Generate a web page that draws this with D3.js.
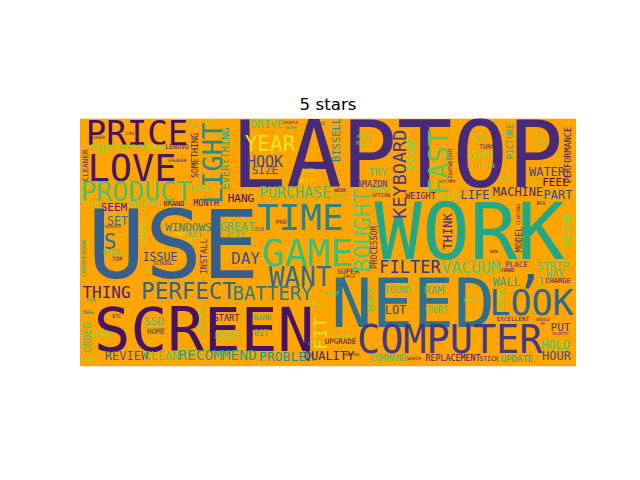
<!DOCTYPE html>
<html>
<head>
<meta charset="utf-8">
<script src="https://cdn.jsdelivr.net/npm/d3@7"></script>
<style>
  body { margin: 0; background: #fff; }
  svg { display: block; }
</style>
</head>
<body>
<div id="chart"></div>
<script>
//====================== Word cloud data (cloud units, 496 x 248) ======================

// large horizontal words
const bigWords = ["LAPTOP", "USE", "WORK", "NEED", "SCREEN", "COMPUTER", "GAME", "LOVE", "TIME", "LOOK",
  "PRICE", "PRODUCT", "WANT", "PERFECT", "YEAR", "S", "BATTERY", "FILTER", "VACUUM", "THING",
  "DAY", "PURCHASE", "HOOK", "\u2019"];
const bigX = [317, 93.5, 389.7, 333, 124, 369.7, 227, 52, 220, 451.5,
  57, 56, 220, 108.5, 190, 30, 192.5, 330, 391, 26.5,
  165.5, 215, 185, 449];
const bigY = [35.5, 125, 111.7, 184, 210.5, 220.7, 134, 49, 98.5, 184,
  14, 73, 158, 172.5, 25, 123, 174.5, 148.3, 149, 173.5,
  140, 74.5, 43, 175.5];
const bigSize = [92, 95, 79, 68, 61, 38.5, 38, 37, 36, 35,
  34, 26.5, 26, 22.5, 21, 21, 19, 17, 16.5, 16,
  16, 15, 15, 50];
const bigTone = [.12, .30, .60, .37, .05, .17, .70, .06, .45, .33,
  .04, .72, .35, .33, .97, .36, .42, .14, .73, .09,
  .25, .70, .22, .28];

// medium horizontal words
const midWords = ["RECOMMEND", "PROBLEM", "REVIEW", "CLEAN", "QUALITY", "WATER", "PART", "MACHINE", "LIFE", "LOT",
  "HOLD", "HOUR", "GREAT", "ISSUE", "SET", "WALL", "WINDOWS", "SEEM", "HANG", "DRIVE",
  "SIZE", "FEEL", "T", "RAM", "PUT", "SSD", "TRY", "STRIP", "WAY", "UPDATE",
  "PLAY", "FOUND", "PORT", "REPLACEMENT", "COMMAND", "START", "POWER", "BIT", "KEY", "MONTH",
  "AMAZON", "WEIGHT", "VIDEO"];
const midX = [137.5, 206.5, 46.5, 81.5, 249, 467, 478, 438, 395, 315.5,
  475.5, 476.5, 157.5, 80, 37.5, 426.5, 108.5, 34, 161, 187,
  185, 475.5, 461.5, 354, 480.5, 74, 298, 473, 475, 437,
  155, 318, 358, 373, 308.5, 146.5, 147.5, 181.5, 115, 126,
  292, 340.5, 401];
const midY = [236.5, 237.5, 237.5, 237.5, 237, 53, 76.7, 73, 76.7, 191.7,
  226.5, 237, 108, 138, 102.5, 163, 108.5, 88.5, 80, 6,
  52, 63.5, 163, 172, 209, 202.5, 53.3, 148, 156, 240,
  116.5, 171.7, 191.7, 240, 239.5, 199, 217.5, 215, 116, 84.5,
  65, 77.5, 37];
const midSize = [14.5, 13, 12, 12, 12, 12, 12, 12, 12, 12,
  12, 12, 11.5, 11.5, 11.5, 11.5, 11, 11, 11, 11,
  11, 11, 11, 11, 11, 11, 10.5, 10.5, 10, 9,
  8, 8.5, 8.5, 8.3, 8.5, 8.5, 8.5, 8, 8, 8.5,
  8.5, 8.5, 8];
const midTone = [.57, .52, .31, .73, .10, .20, .20, .12, .18, .20,
  .72, .22, .68, .20, .40, .60, .42, .08, .03, .72,
  .24, .02, .70, .68, .18, .70, .72, .72, .72, .60,
  .72, .70, .70, .06, .70, .05, .82, .62, .70, .06,
  .15, .10, .82];

// small horizontal words
const smallWords = ["UPGRADE", "SURE", "SUPER", "BAND", "HOME", "SIDE", "PLACE", "WATCH", "CHARGE", "BRAND",
  "BRUSH", "STORE", "STICK", "ANYTHING", "CHANGE", "DESIGN", "FEATURE", "SPEED", "LENOVO", "BELT",
  "TURN", "KITCHEN", "EXCELLENT", "TOP", "TYPE", "HELP", "MODE", "ITEM", "PRO", "HAND",
  "SOUND", "DELL", "BAG", "PAD", "USB", "SCHOOL", "FINE", "ETC", "FAN", "HP",
  "CARD", "WEEK", "WORKS", "AMAZE", "OPTION", "BOX", "EASY", "AUDIO", "CPU", "COOL",
  "COVER", "FIX", "SYSTEM", "VALUE", "NOW", "WORTH", "WOULD", "SPEAKER", "SAFE", "PEOPLE",
  "NOISE", "INITIAL", "COUPLE", "PLASTIC", "PC", "SMALL", "SPACE", "APPLE", "SERVICE"];
const smallX = [260.5, 262.5, 268, 182.5, 76, 31.5, 436.5, 369, 478, 94,
  300, 21.5, 409, 65, 119, 22, 53, 76, 97, 226,
  407, 401, 433, 37.5, 11, 283, 400, 459, 201, 428,
  251, 235, 8, 100, 179, 83, 8, 37, 11, 110,
  228, 260, 260, 284, 301, 461, 25, 391, 50, 113,
  18, 241, 367, 456, 414, 334, 463, 97, 131, 211,
  211, 272, 235, 481, 463, 426, 454, 269, 33];
const smallY = [223, 217.5, 153, 199, 213, 134, 145.5, 77.5, 162, 85,
  71, 216, 240, 85, 70, 28, 28.5, 28.5, 28.5, 62,
  28, 47, 200.5, 140, 85, 24, 19, 25.5, 103, 152,
  175, 184.5, 194, 116, 111, 145, 241, 198, 182, 122,
  52, 72, 77, 18, 77, 85, 34, 182, 15, 7,
  19, 5, 63, 15.5, 133, 240, 200.5, 42, 4, 4,
  9, 236, 225, 215.5, 205, 60, 60, 158, 108];
const smallSize = [7.5, 7, 7.5, 7.5, 7.5, 7.5, 7.5, 7.5, 7, 7,
  7, 6.5, 6.5, 6.5, 6.5, 6.5, 6.7, 6.3, 6.5, 6.5,
  6.5, 6.5, 6, 6, 6, 6, 6, 6, 6, 5.5,
  5.5, 5.5, 5.5, 5.5, 5.5, 5.5, 5, 5, 5, 5,
  5, 5, 5, 5, 5, 5, 5, 5, 4.5, 4.5,
  4.5, 4.5, 4.5, 4.5, 4.5, 4.5, 4.5, 4.5, 4, 4,
  4, 4, 4, 4, 4, 4, 4, 4, 4];
const smallTone = [.05, .82, .12, .62, .20, .75, .12, .82, .05, .04,
  .78, .82, .08, .78, .80, .82, .78, .88, .08, .93,
  .10, .80, .10, .05, .85, .80, .80, .80, .10, .05,
  .75, .85, .40, .95, .30, .08, .85, .10, .65, .85,
  .90, .05, .78, .80, .08, .10, .80, .82, .08, .78,
  .08, .10, .10, .80, .08, .08, .08, .08, .80, .08,
  .60, .08, .80, .08, .10, .80, .80, .10, .08];

// vertical words (read bottom to top)
const vertWords = ["LIGHT", "FAST", "BOUGHT", "KEYBOARD", "FIT", "THINK", "RIGHT", "TOUCH", "BISSELL", "EVERYTHING",
  "ORDER", "PERFORMANCE", "PICTURE", "MODEL", "INSTALL", "SOMETHING", "PROCESSOR", "CLEANER", "CARPET", "DEVICE",
  "COLOR", "DISPLAY", "CHROMEBOOK", "LIGHTWEIGHT", "CLOSING"];
const vertX = [132, 358, 282, 319.7, 240, 368, 330.5, 487, 256, 145,
  7.5, 488, 430, 439, 123.5, 115, 294, 5, 63.5, 290.5,
  421, 122, 4, 370.5, 438.5];
const vertY = [45, 44, 112.5, 55.8, 215, 113, 35, 113, 21.5, 40,
  219, 36.7, 23, 121, 138, 37, 129, 47, 112.5, 181,
  181.7, 202, 140, 46.5, 96];
const vertSize = [27, 27, 23, 18.5, 18, 12, 11, 11, 10.5, 10.3,
  10, 8.5, 8.5, 8.5, 8.5, 8.3, 8, 7.5, 7.5, 7,
  7, 6.5, 6.3, 5, 5];
const vertTone = [.48, .74, .74, .16, .95, .12, .82, .80, .48, .60,
  .70, .05, .62, .12, .15, .08, .10, .15, .85, .72,
  .80, .80, .60, .10, .10];

const title = "5 stars";

//====================== Chart ======================

const w = 640;
const h = 480;

const cloudW = 496;
const cloudH = 248;

// axes box as matplotlib lays it out, image kept at equal aspect
const axLeft = 0.125 * w;
const axWidth = 0.775 * w;
const axTop = (1 - 0.88) * h;
const axHeight = 0.77 * h;
const k = Math.min(axWidth / cloudW, axHeight / cloudH);
const plotW = cloudW * k;
const plotH = cloudH * k;
const plotLeft = axLeft + (axWidth - plotW) / 2;
const plotTop = axTop + (axHeight - plotH) / 2;

const xScale = d3.scaleLinear().domain([0, cloudW]).range([plotLeft, plotLeft + plotW]);
const yScale = d3.scaleLinear().domain([0, cloudH]).range([plotTop, plotTop + plotH]);
const sizeScale = d3.scaleLinear().domain([0, cloudH]).range([0, plotH]);

const makeRows = (names, xs, ys, sizes, tones, rot) =>
  names.map((t, i) => ({ text: t, x: xs[i], y: ys[i], size: sizes[i], tone: tones[i], rot: rot }));

const rows = [].concat(
  makeRows(bigWords, bigX, bigY, bigSize, bigTone, 0),
  makeRows(midWords, midX, midY, midSize, midTone, 0),
  makeRows(smallWords, smallX, smallY, smallSize, smallTone, 0),
  makeRows(vertWords, vertX, vertY, vertSize, vertTone, -90)
);

let svg = d3.select("#chart").append("svg")
  .attr("width", w)
  .attr("height", h)
  .attr("viewBox", "0 0 " + w + " " + h);

svg.append("rect")
  .attr("width", w)
  .attr("height", h)
  .attr("fill", "#ffffff");

svg.append("clipPath")
  .attr("id", "cloud-clip")
  .append("rect")
  .attr("x", xScale(0))
  .attr("y", yScale(0))
  .attr("width", xScale(cloudW) - xScale(0))
  .attr("height", yScale(cloudH) - yScale(0));

let cloud = svg.append("g")
  .attr("clip-path", "url(#cloud-clip)");

cloud.append("rect")
  .attr("x", xScale(0))
  .attr("y", yScale(0))
  .attr("width", xScale(cloudW) - xScale(0))
  .attr("height", yScale(cloudH) - yScale(0))
  .attr("fill", "#ffa500");

// words are positioned by their centre; dy pulls the capitals onto it
cloud.selectAll("text.word")
  .data(rows)
  .join("text")
  .attr("class", "word")
  .attr("transform", d => "translate(" + xScale(d.x) + "," + yScale(d.y) + ") rotate(" + d.rot + ")")
  .attr("text-anchor", "middle")
  .attr("dy", "0.365em")
  .attr("font-family", "'DejaVu Sans Mono', monospace")
  .attr("font-size", d => sizeScale(d.size))
  .attr("fill", d => d3.interpolateViridis(d.tone))
  .text(d => d.text);

// title
svg.append("text")
  .attr("x", plotLeft + plotW / 2)
  .attr("y", plotTop - 8.33)
  .attr("text-anchor", "middle")
  .attr("font-family", "'DejaVu Sans', sans-serif")
  .attr("font-size", 16.67)
  .attr("fill", "#000")
  .text(title);
</script>
</body>
</html>
